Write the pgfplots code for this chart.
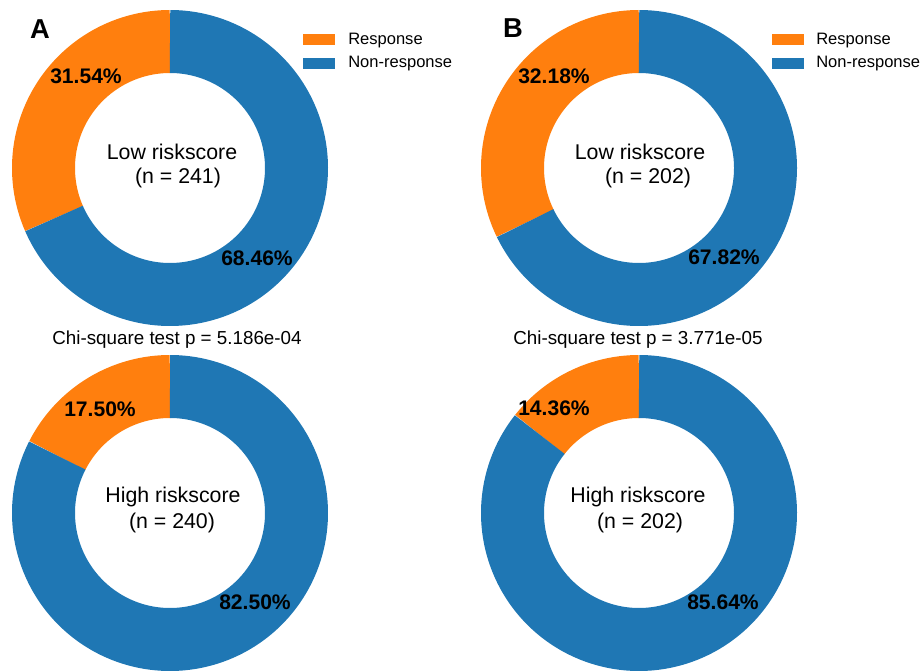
\documentclass[border=0pt]{standalone}
\usepackage{pgfplots}
\pgfplotsset{compat=1.18}
\usepackage{fontspec}
\setmainfont{Liberation Sans}
\definecolor{resp}{HTML}{FF7F0E}
\definecolor{nonresp}{HTML}{1F77B4}
% ring geometry (px): outer radius 158, inner radius 95
\def\rmid{126.5}
\def\ringw{47.25pt}
\newcommand{\donut}[3]{% cx, cy, response percentage
  \addplot[resp, line width=\ringw, domain=90:{90+3.6*#3}, samples=200, no marks]
    ({#1+\rmid*cos(x)},{#2+\rmid*sin(x)});
  \addplot[nonresp, line width=\ringw, domain={90-3.6*(100-#3)}:90, samples=300, no marks]
    ({#1+\rmid*cos(x)},{#2+\rmid*sin(x)});
}
\begin{document}
\begin{tikzpicture}
\begin{axis}[
  x=0.75pt, y=0.75pt,
  xmin=0, xmax=921, ymin=0, ymax=670,
  hide axis, clip=false, scale only axis,
  trig format plots=deg,
]
\path (axis cs:0,0) rectangle (axis cs:921,670);
% Panel A
\donut{170}{502}{31.54}
\donut{170}{157}{17.50}
% Panel B
\donut{639}{502}{32.18}
\donut{639}{157}{14.36}

% panel letters
\node[font=\fontsize{20.5}{22}\selectfont\bfseries] at (axis cs:40,641) {A};
\node[font=\fontsize{20.5}{22}\selectfont\bfseries] at (axis cs:513,642) {B};

% legends
\fill[resp] (axis cs:303,636) rectangle (axis cs:335,625);
\fill[nonresp] (axis cs:303,612) rectangle (axis cs:335,601);
\fill[resp] (axis cs:772,636) rectangle (axis cs:804,625);
\fill[nonresp] (axis cs:772,612) rectangle (axis cs:804,601);
\tikzset{leg/.style={anchor=west, inner sep=0pt, font=\fontsize{12.4}{14}\selectfont}}
\node[leg] at (axis cs:348,629) {Response};
\node[leg] at (axis cs:348,606) {Non-response};
\node[leg] at (axis cs:816,629) {Response};
\node[leg] at (axis cs:816,606) {Non-response};

% percentage labels
\tikzset{pct/.style={font=\fontsize{15.8}{18}\selectfont\bfseries}}
\node[pct] at (axis cs:86,594) {31.54\%};
\node[pct] at (axis cs:257,412) {68.46\%};
\node[pct] at (axis cs:100,261) {17.50\%};
\node[pct] at (axis cs:255,68) {82.50\%};
\node[pct] at (axis cs:554,594) {32.18\%};
\node[pct] at (axis cs:724,413) {67.82\%};
\node[pct] at (axis cs:554,262) {14.36\%};
\node[pct] at (axis cs:723,68) {85.64\%};

% centre texts
\tikzset{ctr/.style={font=\fontsize{16}{18}\selectfont}}
\node[ctr] at (axis cs:172,518) {Low riskscore};
\node[ctr] at (axis cs:178,492) {(n = 241)};
\node[ctr] at (axis cs:173,173) {High riskscore};
\node[ctr] at (axis cs:172,147) {(n = 240)};
\node[ctr] at (axis cs:640,518) {Low riskscore};
\node[ctr] at (axis cs:648,492) {(n = 202)};
\node[ctr] at (axis cs:638,173) {High riskscore};
\node[ctr] at (axis cs:640,147) {(n = 202)};

% chi-square texts
\tikzset{chi/.style={font=\fontsize{14.1}{16}\selectfont}}
\node[chi] at (axis cs:177,330) {Chi-square test p = 5.186e-04};
\node[chi] at (axis cs:638,330) {Chi-square test p = 3.771e-05};
\end{axis}
\end{tikzpicture}
\end{document}
